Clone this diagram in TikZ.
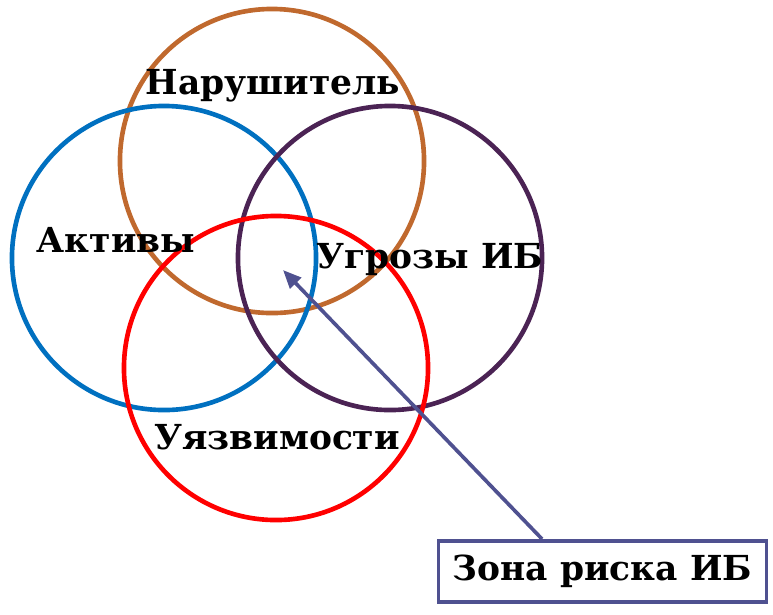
\documentclass[tikz,border=0pt]{standalone}
\usepackage{fontspec}
\setmainfont{DejaVu Serif}
\usepackage{tikz}
\usetikzlibrary{arrows.meta, positioning, calc}
\definecolor{ringorange}{HTML}{C0692E}
\definecolor{ringblue}{HTML}{0070C0}
\definecolor{ringpurple}{HTML}{4B2354}
\definecolor{ringred}{HTML}{FF0000}
\definecolor{zoneblue}{HTML}{4F5190}

\begin{document}
\begin{tikzpicture}[
    x=0.025cm, y=-0.025cm,
    every node/.style={font=\fontsize{24.5}{28}\selectfont\bfseries},
    ring/.style={circle, draw, line width=3.3pt, minimum size=7.6cm, inner sep=0pt},
    zonebox/.style={draw=zoneblue, line width=2.6pt, minimum width=8.2cm, minimum height=1.53cm, fill=white},
    arrow/.style={-{Triangle[length=4.6mm, width=3.8mm]}, draw=zoneblue, line width=2.6pt}
]
    \useasboundingbox (0,0) rectangle (773,614);

    % Circles
    \node[ring, draw=ringorange] (intruder) at (272,161) {};
    \node[ring, draw=ringblue] (assets) at (164,258) {};
    \node[ring, draw=ringpurple] (threats) at (390,258) {};
    \node[ring, draw=ringred] (vuln) at (276,368) {};

    % Labels
    \node (intruderlbl) at (273,86) {Нарушитель};
    \node (assetslbl) at (116,240) {Активы};
    \node (threatslbl) at (430,260) {Угрозы ИБ};
    \node (vulnlbl) at (277,437) {Уязвимости};

    % Risk zone
    \coordinate (risk) at (283,270);
    \node[zonebox] (zone) at (602.5,571.5) {Зона риска ИБ};

    % Arrow
    \draw[arrow] ([xshift=-1.51cm]zone.north) -- (risk);
\end{tikzpicture}
\end{document}
